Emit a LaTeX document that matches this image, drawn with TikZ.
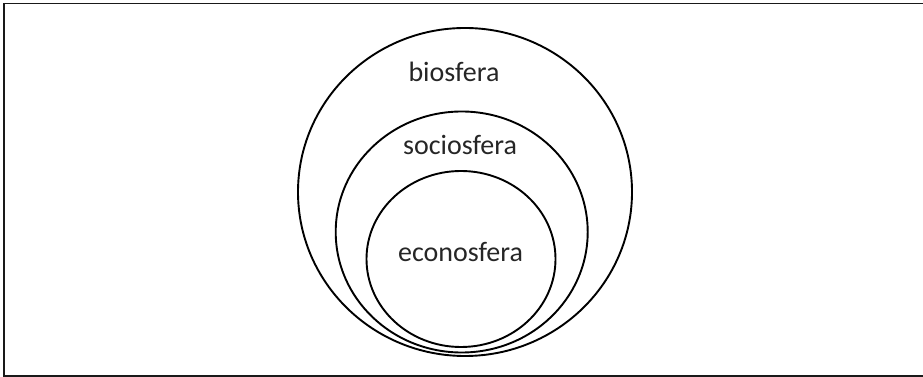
\documentclass[tikz,border=0pt]{standalone}
\usepackage{fontspec}
\setmainfont{Carlito}
\usetikzlibrary{shapes.geometric}
\begin{document}
\begin{tikzpicture}[x=1pt,y=1pt,
  ring/.style={draw=black, line width=1.9pt, ellipse, inner sep=0pt},
  lbl/.style={anchor=base, text=black!85, font=\fontsize{28}{34}\selectfont, inner sep=0pt},
  frame/.style={draw=black!90, line width=1.6pt}]
\useasboundingbox (0,0) rectangle (923,377);
\coordinate (fa) at (4,373.5);
\coordinate (fb) at (926,1);
\draw[frame] (fa) rectangle (fb);
\node[ring, minimum width=334pt, minimum height=328pt] (bio) at (465,185) {};
\node[ring, minimum width=252pt, minimum height=241pt] (socio) at (461.7,145) {};
\node[ring, minimum width=189pt, minimum height=176pt] (econo) at (461,118) {};
\node[lbl] (tbio) at (454,295.3) {biosfera};
\node[lbl] (tsocio) at (460,222) {sociosfera};
\node[lbl] (tecono) at (460.5,115.3) {econosfera};
\end{tikzpicture}
\end{document}
